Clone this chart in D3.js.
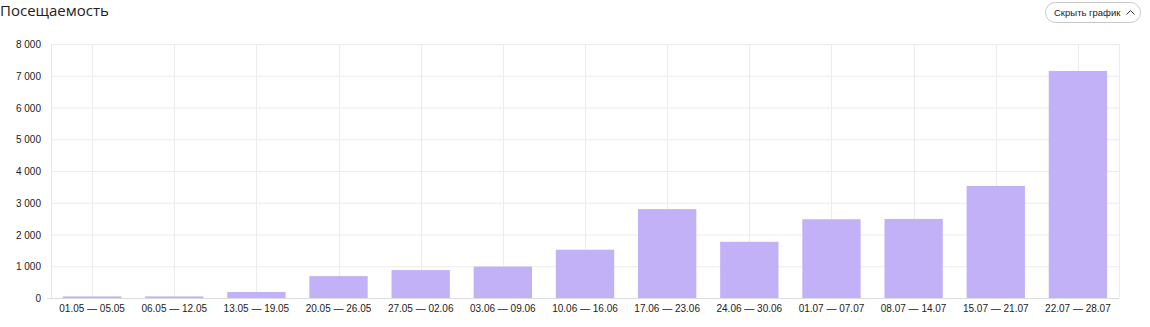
<!DOCTYPE html>
<html>
<head>
<meta charset="utf-8">
<script src="https://cdn.jsdelivr.net/npm/d3@7"></script>
<style>
  body { margin: 0; background: #fff; }
  svg { display: block; }
</style>
</head>
<body>
<svg id="chart"></svg>
<script>
// Weekly visits
const weeks = ['01.05 — 05.05', '06.05 — 12.05', '13.05 — 19.05', '20.05 — 26.05', '27.05 — 02.06',
  '03.06 — 09.06', '10.06 — 16.06', '17.06 — 23.06', '24.06 — 30.06', '01.07 — 07.07',
  '08.07 — 14.07', '15.07 — 21.07', '22.07 — 28.07'];
const visits = [50, 50, 190, 690, 880, 990, 1520, 2800, 1770, 2480, 2490, 3530, 7150];
const yTicks = [0, 1000, 2000, 3000, 4000, 5000, 6000, 7000, 8000];

const width = 1150, height = 327;
const margin = {top: 44, right: 31, bottom: 29, left: 51};
const innerW = width - margin.left - margin.right;
const innerH = height - margin.top - margin.bottom;

const svg = d3.select('#chart')
    .attr('width', width)
    .attr('height', height);

// Title
svg.append('text')
    .attr('x', 0)
    .attr('y', 16)
    .attr('font-family', '"Open Sans", sans-serif')
    .attr('font-size', 15)
    .attr('fill', '#222')
    .text('Посещаемость');

// "Hide chart" button
const btn = svg.append('g').attr('transform', 'translate(1045,2)');
btn.append('rect')
    .attr('x', 0.5).attr('y', 0.5)
    .attr('width', 95).attr('height', 20)
    .attr('rx', 10)
    .attr('fill', '#fff')
    .attr('stroke', '#c8c8c8');
btn.append('text')
    .attr('x', 9).attr('y', 14)
    .attr('font-family', '"Liberation Sans", Arial, sans-serif')
    .attr('font-size', 9.5)
    .attr('fill', '#222')
    .text('Скрыть график');
btn.append('path')
    .attr('d', 'M81.5,12.5 L85.5,8.5 L89.5,12.5')
    .attr('fill', 'none')
    .attr('stroke', '#333')
    .attr('stroke-width', 1);

const chart = svg.append('g')
    .attr('transform', `translate(${margin.left},${margin.top})`);

const x = d3.scaleBand()
    .domain(weeks)
    .range([0, innerW])
    .paddingInner(0.29)
    .paddingOuter(0.145);

const y = d3.scaleLinear()
    .domain([0, 8000])
    .range([innerH, 0]);

// Horizontal grid
chart.append('g')
  .selectAll('line')
  .data(yTicks)
  .join('line')
    .attr('x1', 0).attr('x2', innerW)
    .attr('y1', d => y(d) + 0.5).attr('y2', d => y(d) + 0.5)
    .attr('stroke', '#ececec');

// Vertical grid at category centers + borders
chart.append('g')
  .selectAll('line')
  .data(weeks)
  .join('line')
    .attr('x1', d => Math.round(x(d) + x.bandwidth() / 2) + 0.5)
    .attr('x2', d => Math.round(x(d) + x.bandwidth() / 2) + 0.5)
    .attr('y1', 0).attr('y2', innerH)
    .attr('stroke', '#ececec');

chart.append('line')
    .attr('x1', 0.5).attr('x2', 0.5).attr('y1', 0).attr('y2', innerH)
    .attr('stroke', '#e6e6e6');
chart.append('line')
    .attr('x1', innerW + 0.5).attr('x2', innerW + 0.5).attr('y1', 0).attr('y2', innerH)
    .attr('stroke', '#ececec');

// Bars
chart.selectAll('.bar')
  .data(weeks)
  .join('rect')
    .attr('class', 'bar')
    .attr('x', d => x(d))
    .attr('width', x.bandwidth())
    .attr('y', (d, i) => y(visits[i]))
    .attr('height', (d, i) => innerH - y(visits[i]))
    .attr('fill', '#c3b1f8');

// Baseline
chart.append('line')
    .attr('x1', -4).attr('x2', innerW)
    .attr('y1', innerH + 0.5).attr('y2', innerH + 0.5)
    .attr('stroke', '#dcdcdc');

// Y axis labels (space as thousands separator)
const fmt = d => d3.format(',')(d).replace(/,/g, '\u00a0');
chart.append('g')
  .selectAll('text')
  .data(yTicks)
  .join('text')
    .attr('x', -10)
    .attr('y', d => y(d) + 4)
    .attr('text-anchor', 'end')
    .attr('font-family', '"Liberation Sans", Arial, sans-serif')
    .attr('font-size', 10)
    .attr('fill', '#222')
    .text(fmt);

// X axis labels
chart.append('g')
  .selectAll('text')
  .data(weeks)
  .join('text')
    .attr('x', d => x(d) + x.bandwidth() / 2)
    .attr('y', innerH + 14)
    .attr('text-anchor', 'middle')
    .attr('font-family', '"Liberation Sans", Arial, sans-serif')
    .attr('font-size', 10)
    .attr('fill', '#222')
    .text(d => d);
</script>
</body>
</html>
